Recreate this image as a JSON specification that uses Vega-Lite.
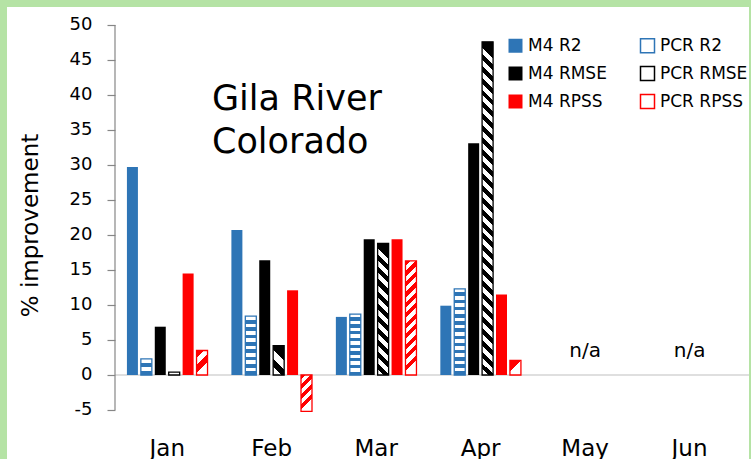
{
  "$schema": "https://vega.github.io/schema/vega-lite/v6.json",
  "background": "#b5e3a5",
  "padding": {"left": 7, "top": 7, "right": 2, "bottom": 0},
  "bounds": "flush",
  "spacing": 0,
  "config": {
    "view": {"fill": "white", "stroke": null},
    "font": "DejaVu Sans"
  },
  "hconcat": [
    {
      "width": 108,
      "height": 452,
      "data": {"values": [{}]},
      "mark": {"type": "text", "fontSize": 1},
      "encoding": {
        "x": {"datum": 0, "type": "quantitative", "scale": {"domain": [-1, 1]}, "axis": null},
        "y": {"datum": 0, "type": "quantitative", "scale": {"domain": [-1, 1]}, "axis": null},
        "text": {"value": ""}
      }
    },
    {
      "width": 634,
      "height": 452,
      "data": {
        "values": [
          {"month": "Jan", "series": "M4 R2", "value": 29.7},
          {"month": "Jan", "series": "PCR R2", "value": 2.3},
          {"month": "Jan", "series": "M4 RMSE", "value": 6.9},
          {"month": "Jan", "series": "PCR RMSE", "value": 0.4},
          {"month": "Jan", "series": "M4 RPSS", "value": 14.5},
          {"month": "Jan", "series": "PCR RPSS", "value": 3.5},
          {"month": "Feb", "series": "M4 R2", "value": 20.7},
          {"month": "Feb", "series": "PCR R2", "value": 8.4},
          {"month": "Feb", "series": "M4 RMSE", "value": 16.4},
          {"month": "Feb", "series": "PCR RMSE", "value": 4.2},
          {"month": "Feb", "series": "M4 RPSS", "value": 12.1},
          {"month": "Feb", "series": "PCR RPSS", "value": -5.2},
          {"month": "Mar", "series": "M4 R2", "value": 8.3},
          {"month": "Mar", "series": "PCR R2", "value": 8.7},
          {"month": "Mar", "series": "M4 RMSE", "value": 19.4},
          {"month": "Mar", "series": "PCR RMSE", "value": 18.8},
          {"month": "Mar", "series": "M4 RPSS", "value": 19.4},
          {"month": "Mar", "series": "PCR RPSS", "value": 16.3},
          {"month": "Apr", "series": "M4 R2", "value": 9.9},
          {"month": "Apr", "series": "PCR R2", "value": 12.3},
          {"month": "Apr", "series": "M4 RMSE", "value": 33.1},
          {"month": "Apr", "series": "PCR RMSE", "value": 47.6},
          {"month": "Apr", "series": "M4 RPSS", "value": 11.5},
          {"month": "Apr", "series": "PCR RPSS", "value": 2.1}
        ]
      },
      "layer": [
        {
          "data": {"values": [{}]},
          "mark": {"type": "rule", "color": "#d4d4d4", "strokeWidth": 1.5},
          "encoding": {
            "y": {"datum": 0, "type": "quantitative", "scale": {"domain": [-12, 52.571], "nice": false, "zero": false},
              "axis": {"values": [-5, 0, 5, 10, 15, 20, 25, 30, 35, 40, 45, 50], "domain": false, "grid": false, "ticks": true, "tickSize": 8, "tickColor": "#868686", "tickWidth": 1.2, "labelFontSize": 18, "labelColor": "#000000", "labelPadding": 15, "labelExpr": "'' + datum.value", "title": "% improvement", "titleFontSize": 23, "titleFontWeight": "normal", "titleColor": "#000000", "titlePadding": 27, "titleY": 218}}
          }
        },
        {
          "transform": [{"filter": {"field": "series", "oneOf": ["M4 R2", "M4 RMSE", "M4 RPSS"]}}],
          "mark": {"type": "bar", "strokeWidth": 0},
          "encoding": {
            "x": {
              "field": "month", "type": "nominal",
              "scale": {"domain": ["Jan", "Feb", "Mar", "Apr", "May", "Jun"], "paddingInner": 0, "paddingOuter": 0.0345, "align": 0},
              "axis": {"title": null, "domain": false, "ticks": false, "grid": false, "labelAngle": 0, "labelFontSize": 23, "labelColor": "#000000", "labelBaseline": "alphabetic", "labelPadding": 0, "offset": -4}
            },
            "xOffset": {
              "field": "series", "type": "nominal",
              "scale": {"domain": ["M4 R2", "PCR R2", "M4 RMSE", "PCR RMSE", "M4 RPSS", "PCR RPSS"], "paddingInner": 0.21, "paddingOuter": 0.857}
            },
            "y": {
              "field": "value", "type": "quantitative",
              "scale": {"domain": [-12, 52.571], "nice": false, "zero": false},
              "axis": {"values": [-5, 0, 5, 10, 15, 20, 25, 30, 35, 40, 45, 50], "domain": false, "grid": false, "ticks": true, "tickSize": 8, "tickColor": "#868686", "tickWidth": 1.2, "labelFontSize": 18, "labelColor": "#000000", "labelPadding": 15, "labelExpr": "'' + datum.value", "title": "% improvement", "titleFontSize": 23, "titleFontWeight": "normal", "titleColor": "#000000", "titlePadding": 27, "titleY": 218}
            },
            "fill": {
              "field": "series", "type": "nominal",
              "scale": {
                "domain": ["M4 R2", "M4 RMSE", "M4 RPSS", "PCR R2", "PCR RMSE", "PCR RPSS"],
                "range": ["#2e75b6", "#000000", "#ff0000", "#ffffff", "#ffffff", "#ffffff"]
              },
              "legend": {"title": null, "orient": "none", "legendX": 500, "legendY": 30, "columns": 2, "columnPadding": 30, "rowPadding": 7, "padding": 0, "symbolType": "square", "symbolSize": 196, "symbolStrokeWidth": 1.5, "labelFontSize": 17, "labelColor": "#000000", "labelOffset": 4}
            },
            "stroke": {
              "field": "series", "type": "nominal",
              "scale": {
                "domain": ["M4 R2", "M4 RMSE", "M4 RPSS", "PCR R2", "PCR RMSE", "PCR RPSS"],
                "range": ["transparent", "transparent", "transparent", "#2e75b6", "#000000", "#ff0000"]
              },
              "legend": {"title": null, "orient": "none", "legendX": 500, "legendY": 30, "columns": 2, "columnPadding": 30, "rowPadding": 7, "padding": 0, "symbolType": "square", "symbolSize": 196, "symbolStrokeWidth": 1.5, "labelFontSize": 17, "labelColor": "#000000", "labelOffset": 4}
            }
          }
        },
        {
          "transform": [{"filter": {"field": "series", "oneOf": ["PCR R2", "PCR RMSE", "PCR RPSS"]}}],
          "mark": {"type": "bar", "strokeWidth": 1.3},
          "encoding": {
            "x": {"field": "month", "type": "nominal", "scale": {"domain": ["Jan", "Feb", "Mar", "Apr", "May", "Jun"], "paddingInner": 0, "paddingOuter": 0.0345, "align": 0},
              "axis": {"title": null, "domain": false, "ticks": false, "grid": false, "labelAngle": 0, "labelFontSize": 23, "labelColor": "#000000", "labelBaseline": "alphabetic", "labelPadding": 0, "offset": -4}},
            "xOffset": {"field": "series", "type": "nominal", "scale": {"domain": ["M4 R2", "PCR R2", "M4 RMSE", "PCR RMSE", "M4 RPSS", "PCR RPSS"], "paddingInner": 0.21, "paddingOuter": 0.857}},
            "y": {"field": "value", "type": "quantitative", "scale": {"domain": [-12, 52.571], "nice": false, "zero": false},
              "axis": {"values": [-5, 0, 5, 10, 15, 20, 25, 30, 35, 40, 45, 50], "domain": false, "grid": false, "ticks": true, "tickSize": 8, "tickColor": "#868686", "tickWidth": 1.2, "labelFontSize": 18, "labelColor": "#000000", "labelPadding": 15, "labelExpr": "'' + datum.value", "title": "% improvement", "titleFontSize": 23, "titleFontWeight": "normal", "titleColor": "#000000", "titlePadding": 27, "titleY": 218}},
            "stroke": {
              "field": "series", "type": "nominal",
              "scale": {
                "domain": ["M4 R2", "M4 RMSE", "M4 RPSS", "PCR R2", "PCR RMSE", "PCR RPSS"],
                "range": ["transparent", "transparent", "transparent", "#2e75b6", "#000000", "#ff0000"]
              },
              "legend": {"title": null, "orient": "none", "legendX": 500, "legendY": 30, "columns": 2, "columnPadding": 30, "rowPadding": 7, "padding": 0, "symbolType": "square", "symbolSize": 196, "symbolStrokeWidth": 1.5, "labelFontSize": 17, "labelColor": "#000000", "labelOffset": 4}
            },
            "fill": {
              "condition": [
                {"test": "datum.series === 'PCR R2' && datum.month === 'Jan'", "value": {"gradient": "linear", "x1": 0, "y1": 0, "x2": 0, "y2": 1, "stops": [
                  {"offset": 0.25, "color": "#ffffff"}, {"offset": 0.25, "color": "#2e75b6"}, {"offset": 0.5, "color": "#2e75b6"}, {"offset": 0.5, "color": "#ffffff"}, {"offset": 0.75, "color": "#ffffff"}, {"offset": 0.75, "color": "#2e75b6"}]}},
                {"test": "datum.series === 'PCR R2' && datum.month === 'Feb'", "value": {"gradient": "linear", "x1": 0, "y1": 0, "x2": 0, "y2": 1, "stops": [
                  {"offset": 0.0625, "color": "#ffffff"}, {"offset": 0.0625, "color": "#2e75b6"},
                  {"offset": 0.125, "color": "#2e75b6"}, {"offset": 0.125, "color": "#ffffff"},
                  {"offset": 0.1875, "color": "#ffffff"}, {"offset": 0.1875, "color": "#2e75b6"},
                  {"offset": 0.25, "color": "#2e75b6"}, {"offset": 0.25, "color": "#ffffff"},
                  {"offset": 0.3125, "color": "#ffffff"}, {"offset": 0.3125, "color": "#2e75b6"},
                  {"offset": 0.375, "color": "#2e75b6"}, {"offset": 0.375, "color": "#ffffff"},
                  {"offset": 0.4375, "color": "#ffffff"}, {"offset": 0.4375, "color": "#2e75b6"},
                  {"offset": 0.5, "color": "#2e75b6"}, {"offset": 0.5, "color": "#ffffff"},
                  {"offset": 0.5625, "color": "#ffffff"}, {"offset": 0.5625, "color": "#2e75b6"},
                  {"offset": 0.625, "color": "#2e75b6"}, {"offset": 0.625, "color": "#ffffff"},
                  {"offset": 0.6875, "color": "#ffffff"}, {"offset": 0.6875, "color": "#2e75b6"},
                  {"offset": 0.75, "color": "#2e75b6"}, {"offset": 0.75, "color": "#ffffff"},
                  {"offset": 0.8125, "color": "#ffffff"}, {"offset": 0.8125, "color": "#2e75b6"},
                  {"offset": 0.875, "color": "#2e75b6"}, {"offset": 0.875, "color": "#ffffff"},
                  {"offset": 0.9375, "color": "#ffffff"}, {"offset": 0.9375, "color": "#2e75b6"}]}},
                {"test": "datum.series === 'PCR R2' && datum.month === 'Mar'", "value": {"gradient": "linear", "x1": 0, "y1": 0, "x2": 0, "y2": 1, "stops": [
                  {"offset": 0.0556, "color": "#ffffff"}, {"offset": 0.0556, "color": "#2e75b6"},
                  {"offset": 0.1111, "color": "#2e75b6"}, {"offset": 0.1111, "color": "#ffffff"},
                  {"offset": 0.1667, "color": "#ffffff"}, {"offset": 0.1667, "color": "#2e75b6"},
                  {"offset": 0.2222, "color": "#2e75b6"}, {"offset": 0.2222, "color": "#ffffff"},
                  {"offset": 0.2778, "color": "#ffffff"}, {"offset": 0.2778, "color": "#2e75b6"},
                  {"offset": 0.3333, "color": "#2e75b6"}, {"offset": 0.3333, "color": "#ffffff"},
                  {"offset": 0.3889, "color": "#ffffff"}, {"offset": 0.3889, "color": "#2e75b6"},
                  {"offset": 0.4444, "color": "#2e75b6"}, {"offset": 0.4444, "color": "#ffffff"},
                  {"offset": 0.5, "color": "#ffffff"}, {"offset": 0.5, "color": "#2e75b6"},
                  {"offset": 0.5556, "color": "#2e75b6"}, {"offset": 0.5556, "color": "#ffffff"},
                  {"offset": 0.6111, "color": "#ffffff"}, {"offset": 0.6111, "color": "#2e75b6"},
                  {"offset": 0.6667, "color": "#2e75b6"}, {"offset": 0.6667, "color": "#ffffff"},
                  {"offset": 0.7222, "color": "#ffffff"}, {"offset": 0.7222, "color": "#2e75b6"},
                  {"offset": 0.7778, "color": "#2e75b6"}, {"offset": 0.7778, "color": "#ffffff"},
                  {"offset": 0.8333, "color": "#ffffff"}, {"offset": 0.8333, "color": "#2e75b6"},
                  {"offset": 0.8889, "color": "#2e75b6"}, {"offset": 0.8889, "color": "#ffffff"},
                  {"offset": 0.9444, "color": "#ffffff"}, {"offset": 0.9444, "color": "#2e75b6"}]}},
                {"test": "datum.series === 'PCR R2' && datum.month === 'Apr'", "value": {"gradient": "linear", "x1": 0, "y1": 0, "x2": 0, "y2": 1, "stops": [
                  {"offset": 0.0417, "color": "#ffffff"}, {"offset": 0.0417, "color": "#2e75b6"},
                  {"offset": 0.0833, "color": "#2e75b6"}, {"offset": 0.0833, "color": "#ffffff"},
                  {"offset": 0.125, "color": "#ffffff"}, {"offset": 0.125, "color": "#2e75b6"},
                  {"offset": 0.1667, "color": "#2e75b6"}, {"offset": 0.1667, "color": "#ffffff"},
                  {"offset": 0.2083, "color": "#ffffff"}, {"offset": 0.2083, "color": "#2e75b6"},
                  {"offset": 0.25, "color": "#2e75b6"}, {"offset": 0.25, "color": "#ffffff"},
                  {"offset": 0.2917, "color": "#ffffff"}, {"offset": 0.2917, "color": "#2e75b6"},
                  {"offset": 0.3333, "color": "#2e75b6"}, {"offset": 0.3333, "color": "#ffffff"},
                  {"offset": 0.375, "color": "#ffffff"}, {"offset": 0.375, "color": "#2e75b6"},
                  {"offset": 0.4167, "color": "#2e75b6"}, {"offset": 0.4167, "color": "#ffffff"},
                  {"offset": 0.4583, "color": "#ffffff"}, {"offset": 0.4583, "color": "#2e75b6"},
                  {"offset": 0.5, "color": "#2e75b6"}, {"offset": 0.5, "color": "#ffffff"},
                  {"offset": 0.5417, "color": "#ffffff"}, {"offset": 0.5417, "color": "#2e75b6"},
                  {"offset": 0.5833, "color": "#2e75b6"}, {"offset": 0.5833, "color": "#ffffff"},
                  {"offset": 0.625, "color": "#ffffff"}, {"offset": 0.625, "color": "#2e75b6"},
                  {"offset": 0.6667, "color": "#2e75b6"}, {"offset": 0.6667, "color": "#ffffff"},
                  {"offset": 0.7083, "color": "#ffffff"}, {"offset": 0.7083, "color": "#2e75b6"},
                  {"offset": 0.75, "color": "#2e75b6"}, {"offset": 0.75, "color": "#ffffff"},
                  {"offset": 0.7917, "color": "#ffffff"}, {"offset": 0.7917, "color": "#2e75b6"},
                  {"offset": 0.8333, "color": "#2e75b6"}, {"offset": 0.8333, "color": "#ffffff"},
                  {"offset": 0.875, "color": "#ffffff"}, {"offset": 0.875, "color": "#2e75b6"},
                  {"offset": 0.9167, "color": "#2e75b6"}, {"offset": 0.9167, "color": "#ffffff"},
                  {"offset": 0.9583, "color": "#ffffff"}, {"offset": 0.9583, "color": "#2e75b6"}]}},
                {"test": "datum.series === 'PCR RMSE' && datum.month === 'Feb'", "value": {"gradient": "linear", "x1": 0.374, "y1": 0, "x2": 0, "y2": 1, "stops": [
                  {"offset": 0.25, "color": "#000000"}, {"offset": 0.25, "color": "#ffffff"}, {"offset": 0.5, "color": "#ffffff"}, {"offset": 0.5, "color": "#000000"}, {"offset": 0.75, "color": "#000000"}, {"offset": 0.75, "color": "#ffffff"}]}},
                {"test": "datum.series === 'PCR RMSE' && datum.month === 'Mar'", "value": {"gradient": "linear", "x1": 0.0836, "y1": 0, "x2": 0, "y2": 1, "stops": [
                  {"offset": 0.0455, "color": "#000000"}, {"offset": 0.0455, "color": "#ffffff"},
                  {"offset": 0.0909, "color": "#ffffff"}, {"offset": 0.0909, "color": "#000000"},
                  {"offset": 0.1364, "color": "#000000"}, {"offset": 0.1364, "color": "#ffffff"},
                  {"offset": 0.1818, "color": "#ffffff"}, {"offset": 0.1818, "color": "#000000"},
                  {"offset": 0.2273, "color": "#000000"}, {"offset": 0.2273, "color": "#ffffff"},
                  {"offset": 0.2727, "color": "#ffffff"}, {"offset": 0.2727, "color": "#000000"},
                  {"offset": 0.3182, "color": "#000000"}, {"offset": 0.3182, "color": "#ffffff"},
                  {"offset": 0.3636, "color": "#ffffff"}, {"offset": 0.3636, "color": "#000000"},
                  {"offset": 0.4091, "color": "#000000"}, {"offset": 0.4091, "color": "#ffffff"},
                  {"offset": 0.4545, "color": "#ffffff"}, {"offset": 0.4545, "color": "#000000"},
                  {"offset": 0.5, "color": "#000000"}, {"offset": 0.5, "color": "#ffffff"},
                  {"offset": 0.5455, "color": "#ffffff"}, {"offset": 0.5455, "color": "#000000"},
                  {"offset": 0.5909, "color": "#000000"}, {"offset": 0.5909, "color": "#ffffff"},
                  {"offset": 0.6364, "color": "#ffffff"}, {"offset": 0.6364, "color": "#000000"},
                  {"offset": 0.6818, "color": "#000000"}, {"offset": 0.6818, "color": "#ffffff"},
                  {"offset": 0.7273, "color": "#ffffff"}, {"offset": 0.7273, "color": "#000000"},
                  {"offset": 0.7727, "color": "#000000"}, {"offset": 0.7727, "color": "#ffffff"},
                  {"offset": 0.8182, "color": "#ffffff"}, {"offset": 0.8182, "color": "#000000"},
                  {"offset": 0.8636, "color": "#000000"}, {"offset": 0.8636, "color": "#ffffff"},
                  {"offset": 0.9091, "color": "#ffffff"}, {"offset": 0.9091, "color": "#000000"},
                  {"offset": 0.9545, "color": "#000000"}, {"offset": 0.9545, "color": "#ffffff"}]}},
                {"test": "datum.series === 'PCR RMSE' && datum.month === 'Apr'", "value": {"gradient": "linear", "x1": 0.033, "y1": 0, "x2": 0, "y2": 1, "stops": [
                  {"offset": 0.0179, "color": "#000000"}, {"offset": 0.0179, "color": "#ffffff"},
                  {"offset": 0.0357, "color": "#ffffff"}, {"offset": 0.0357, "color": "#000000"},
                  {"offset": 0.0536, "color": "#000000"}, {"offset": 0.0536, "color": "#ffffff"},
                  {"offset": 0.0714, "color": "#ffffff"}, {"offset": 0.0714, "color": "#000000"},
                  {"offset": 0.0893, "color": "#000000"}, {"offset": 0.0893, "color": "#ffffff"},
                  {"offset": 0.1071, "color": "#ffffff"}, {"offset": 0.1071, "color": "#000000"},
                  {"offset": 0.125, "color": "#000000"}, {"offset": 0.125, "color": "#ffffff"},
                  {"offset": 0.1429, "color": "#ffffff"}, {"offset": 0.1429, "color": "#000000"},
                  {"offset": 0.1607, "color": "#000000"}, {"offset": 0.1607, "color": "#ffffff"},
                  {"offset": 0.1786, "color": "#ffffff"}, {"offset": 0.1786, "color": "#000000"},
                  {"offset": 0.1964, "color": "#000000"}, {"offset": 0.1964, "color": "#ffffff"},
                  {"offset": 0.2143, "color": "#ffffff"}, {"offset": 0.2143, "color": "#000000"},
                  {"offset": 0.2321, "color": "#000000"}, {"offset": 0.2321, "color": "#ffffff"},
                  {"offset": 0.25, "color": "#ffffff"}, {"offset": 0.25, "color": "#000000"},
                  {"offset": 0.2679, "color": "#000000"}, {"offset": 0.2679, "color": "#ffffff"},
                  {"offset": 0.2857, "color": "#ffffff"}, {"offset": 0.2857, "color": "#000000"},
                  {"offset": 0.3036, "color": "#000000"}, {"offset": 0.3036, "color": "#ffffff"},
                  {"offset": 0.3214, "color": "#ffffff"}, {"offset": 0.3214, "color": "#000000"},
                  {"offset": 0.3393, "color": "#000000"}, {"offset": 0.3393, "color": "#ffffff"},
                  {"offset": 0.3571, "color": "#ffffff"}, {"offset": 0.3571, "color": "#000000"},
                  {"offset": 0.375, "color": "#000000"}, {"offset": 0.375, "color": "#ffffff"},
                  {"offset": 0.3929, "color": "#ffffff"}, {"offset": 0.3929, "color": "#000000"},
                  {"offset": 0.4107, "color": "#000000"}, {"offset": 0.4107, "color": "#ffffff"},
                  {"offset": 0.4286, "color": "#ffffff"}, {"offset": 0.4286, "color": "#000000"},
                  {"offset": 0.4464, "color": "#000000"}, {"offset": 0.4464, "color": "#ffffff"},
                  {"offset": 0.4643, "color": "#ffffff"}, {"offset": 0.4643, "color": "#000000"},
                  {"offset": 0.4821, "color": "#000000"}, {"offset": 0.4821, "color": "#ffffff"},
                  {"offset": 0.5, "color": "#ffffff"}, {"offset": 0.5, "color": "#000000"},
                  {"offset": 0.5179, "color": "#000000"}, {"offset": 0.5179, "color": "#ffffff"},
                  {"offset": 0.5357, "color": "#ffffff"}, {"offset": 0.5357, "color": "#000000"},
                  {"offset": 0.5536, "color": "#000000"}, {"offset": 0.5536, "color": "#ffffff"},
                  {"offset": 0.5714, "color": "#ffffff"}, {"offset": 0.5714, "color": "#000000"},
                  {"offset": 0.5893, "color": "#000000"}, {"offset": 0.5893, "color": "#ffffff"},
                  {"offset": 0.6071, "color": "#ffffff"}, {"offset": 0.6071, "color": "#000000"},
                  {"offset": 0.625, "color": "#000000"}, {"offset": 0.625, "color": "#ffffff"},
                  {"offset": 0.6429, "color": "#ffffff"}, {"offset": 0.6429, "color": "#000000"},
                  {"offset": 0.6607, "color": "#000000"}, {"offset": 0.6607, "color": "#ffffff"},
                  {"offset": 0.6786, "color": "#ffffff"}, {"offset": 0.6786, "color": "#000000"},
                  {"offset": 0.6964, "color": "#000000"}, {"offset": 0.6964, "color": "#ffffff"},
                  {"offset": 0.7143, "color": "#ffffff"}, {"offset": 0.7143, "color": "#000000"},
                  {"offset": 0.7321, "color": "#000000"}, {"offset": 0.7321, "color": "#ffffff"},
                  {"offset": 0.75, "color": "#ffffff"}, {"offset": 0.75, "color": "#000000"},
                  {"offset": 0.7679, "color": "#000000"}, {"offset": 0.7679, "color": "#ffffff"},
                  {"offset": 0.7857, "color": "#ffffff"}, {"offset": 0.7857, "color": "#000000"},
                  {"offset": 0.8036, "color": "#000000"}, {"offset": 0.8036, "color": "#ffffff"},
                  {"offset": 0.8214, "color": "#ffffff"}, {"offset": 0.8214, "color": "#000000"},
                  {"offset": 0.8393, "color": "#000000"}, {"offset": 0.8393, "color": "#ffffff"},
                  {"offset": 0.8571, "color": "#ffffff"}, {"offset": 0.8571, "color": "#000000"},
                  {"offset": 0.875, "color": "#000000"}, {"offset": 0.875, "color": "#ffffff"},
                  {"offset": 0.8929, "color": "#ffffff"}, {"offset": 0.8929, "color": "#000000"},
                  {"offset": 0.9107, "color": "#000000"}, {"offset": 0.9107, "color": "#ffffff"},
                  {"offset": 0.9286, "color": "#ffffff"}, {"offset": 0.9286, "color": "#000000"},
                  {"offset": 0.9464, "color": "#000000"}, {"offset": 0.9464, "color": "#ffffff"},
                  {"offset": 0.9643, "color": "#ffffff"}, {"offset": 0.9643, "color": "#000000"},
                  {"offset": 0.9821, "color": "#000000"}, {"offset": 0.9821, "color": "#ffffff"}]}},
                {"test": "datum.series === 'PCR RPSS' && datum.month === 'Jan'", "value": {"gradient": "linear", "x1": 0, "y1": 0, "x2": 0.449, "y2": 1, "stops": [
                  {"offset": 0.25, "color": "#ff0000"}, {"offset": 0.25, "color": "#ffffff"}, {"offset": 0.5, "color": "#ffffff"}, {"offset": 0.5, "color": "#ff0000"}, {"offset": 0.75, "color": "#ff0000"}, {"offset": 0.75, "color": "#ffffff"}]}},
                {"test": "datum.series === 'PCR RPSS' && datum.month === 'Feb'", "value": {"gradient": "linear", "x1": 0, "y1": 0, "x2": 0.302, "y2": 1, "stops": [
                  {"offset": 0.125, "color": "#ff0000"}, {"offset": 0.125, "color": "#ffffff"},
                  {"offset": 0.25, "color": "#ffffff"}, {"offset": 0.25, "color": "#ff0000"},
                  {"offset": 0.375, "color": "#ff0000"}, {"offset": 0.375, "color": "#ffffff"},
                  {"offset": 0.5, "color": "#ffffff"}, {"offset": 0.5, "color": "#ff0000"},
                  {"offset": 0.625, "color": "#ff0000"}, {"offset": 0.625, "color": "#ffffff"},
                  {"offset": 0.75, "color": "#ffffff"}, {"offset": 0.75, "color": "#ff0000"},
                  {"offset": 0.875, "color": "#ff0000"}, {"offset": 0.875, "color": "#ffffff"}]}},
                {"test": "datum.series === 'PCR RPSS' && datum.month === 'Mar'", "value": {"gradient": "linear", "x1": 0, "y1": 0, "x2": 0.0964, "y2": 1, "stops": [
                  {"offset": 0.0455, "color": "#ff0000"}, {"offset": 0.0455, "color": "#ffffff"},
                  {"offset": 0.0909, "color": "#ffffff"}, {"offset": 0.0909, "color": "#ff0000"},
                  {"offset": 0.1364, "color": "#ff0000"}, {"offset": 0.1364, "color": "#ffffff"},
                  {"offset": 0.1818, "color": "#ffffff"}, {"offset": 0.1818, "color": "#ff0000"},
                  {"offset": 0.2273, "color": "#ff0000"}, {"offset": 0.2273, "color": "#ffffff"},
                  {"offset": 0.2727, "color": "#ffffff"}, {"offset": 0.2727, "color": "#ff0000"},
                  {"offset": 0.3182, "color": "#ff0000"}, {"offset": 0.3182, "color": "#ffffff"},
                  {"offset": 0.3636, "color": "#ffffff"}, {"offset": 0.3636, "color": "#ff0000"},
                  {"offset": 0.4091, "color": "#ff0000"}, {"offset": 0.4091, "color": "#ffffff"},
                  {"offset": 0.4545, "color": "#ffffff"}, {"offset": 0.4545, "color": "#ff0000"},
                  {"offset": 0.5, "color": "#ff0000"}, {"offset": 0.5, "color": "#ffffff"},
                  {"offset": 0.5455, "color": "#ffffff"}, {"offset": 0.5455, "color": "#ff0000"},
                  {"offset": 0.5909, "color": "#ff0000"}, {"offset": 0.5909, "color": "#ffffff"},
                  {"offset": 0.6364, "color": "#ffffff"}, {"offset": 0.6364, "color": "#ff0000"},
                  {"offset": 0.6818, "color": "#ff0000"}, {"offset": 0.6818, "color": "#ffffff"},
                  {"offset": 0.7273, "color": "#ffffff"}, {"offset": 0.7273, "color": "#ff0000"},
                  {"offset": 0.7727, "color": "#ff0000"}, {"offset": 0.7727, "color": "#ffffff"},
                  {"offset": 0.8182, "color": "#ffffff"}, {"offset": 0.8182, "color": "#ff0000"},
                  {"offset": 0.8636, "color": "#ff0000"}, {"offset": 0.8636, "color": "#ffffff"},
                  {"offset": 0.9091, "color": "#ffffff"}, {"offset": 0.9091, "color": "#ff0000"},
                  {"offset": 0.9545, "color": "#ff0000"}, {"offset": 0.9545, "color": "#ffffff"}]}},
                {"test": "datum.series === 'PCR RPSS' && datum.month === 'Apr'", "value": {"gradient": "linear", "x1": 0, "y1": 0, "x2": 0.748, "y2": 1, "stops": [
                  {"offset": 0.5, "color": "#ff0000"}, {"offset": 0.5, "color": "#ffffff"}]}}
              ],
              "value": "#ffffff"
            }
          }
        },
        {
          "data": {"values": [{}]},
          "mark": {"type": "rule", "color": "#868686", "strokeWidth": 1.2},
          "encoding": {
            "x": {"datum": "Jan", "type": "nominal", "bandPosition": 0, "scale": {"domain": ["Jan", "Feb", "Mar", "Apr", "May", "Jun"], "paddingInner": 0, "paddingOuter": 0.0345, "align": 0},
              "axis": {"title": null, "domain": false, "ticks": false, "grid": false, "labelAngle": 0, "labelFontSize": 23, "labelColor": "#000000", "labelBaseline": "alphabetic", "labelPadding": 0, "offset": -4}},
            "y": {"datum": -5, "type": "quantitative", "scale": {"domain": [-12, 52.571], "nice": false, "zero": false},
              "axis": {"values": [-5, 0, 5, 10, 15, 20, 25, 30, 35, 40, 45, 50], "domain": false, "grid": false, "ticks": true, "tickSize": 8, "tickColor": "#868686", "tickWidth": 1.2, "labelFontSize": 18, "labelColor": "#000000", "labelPadding": 15, "labelExpr": "'' + datum.value", "title": "% improvement", "titleFontSize": 23, "titleFontWeight": "normal", "titleColor": "#000000", "titlePadding": 27, "titleY": 218}},
            "y2": {"datum": 50}
          }
        },
        {
          "data": {"values": [{}]},
          "mark": {"type": "text", "align": "left", "baseline": "alphabetic", "fontSize": 35, "lineHeight": 43, "color": "#000000", "dx": 97},
          "encoding": {
            "x": {"datum": "Jan", "type": "nominal", "bandPosition": 0, "scale": {"domain": ["Jan", "Feb", "Mar", "Apr", "May", "Jun"], "paddingInner": 0, "paddingOuter": 0.0345, "align": 0},
              "axis": {"title": null, "domain": false, "ticks": false, "grid": false, "labelAngle": 0, "labelFontSize": 23, "labelColor": "#000000", "labelBaseline": "alphabetic", "labelPadding": 0, "offset": -4}},
            "y": {"datum": 37.86, "type": "quantitative", "scale": {"domain": [-12, 52.571], "nice": false, "zero": false},
              "axis": {"values": [-5, 0, 5, 10, 15, 20, 25, 30, 35, 40, 45, 50], "domain": false, "grid": false, "ticks": true, "tickSize": 8, "tickColor": "#868686", "tickWidth": 1.2, "labelFontSize": 18, "labelColor": "#000000", "labelPadding": 15, "labelExpr": "'' + datum.value", "title": "% improvement", "titleFontSize": 23, "titleFontWeight": "normal", "titleColor": "#000000", "titlePadding": 27, "titleY": 218}},
            "text": {"value": ["Gila River", "Colorado"]}
          }
        },
        {
          "data": {"values": [{"month": "May", "label": "n/a"}, {"month": "Jun", "label": "n/a"}]},
          "mark": {"type": "text", "align": "center", "baseline": "alphabetic", "fontSize": 20, "color": "#000000"},
          "encoding": {
            "x": {"field": "month", "type": "nominal", "scale": {"domain": ["Jan", "Feb", "Mar", "Apr", "May", "Jun"], "paddingInner": 0, "paddingOuter": 0.0345, "align": 0},
              "axis": {"title": null, "domain": false, "ticks": false, "grid": false, "labelAngle": 0, "labelFontSize": 23, "labelColor": "#000000", "labelBaseline": "alphabetic", "labelPadding": 0, "offset": -4}},
            "y": {"datum": 2.6, "type": "quantitative", "scale": {"domain": [-12, 52.571], "nice": false, "zero": false},
              "axis": {"values": [-5, 0, 5, 10, 15, 20, 25, 30, 35, 40, 45, 50], "domain": false, "grid": false, "ticks": true, "tickSize": 8, "tickColor": "#868686", "tickWidth": 1.2, "labelFontSize": 18, "labelColor": "#000000", "labelPadding": 15, "labelExpr": "'' + datum.value", "title": "% improvement", "titleFontSize": 23, "titleFontWeight": "normal", "titleColor": "#000000", "titlePadding": 27, "titleY": 218}},
            "text": {"field": "label"}
          }
        }
      ]
    }
  ]
}
